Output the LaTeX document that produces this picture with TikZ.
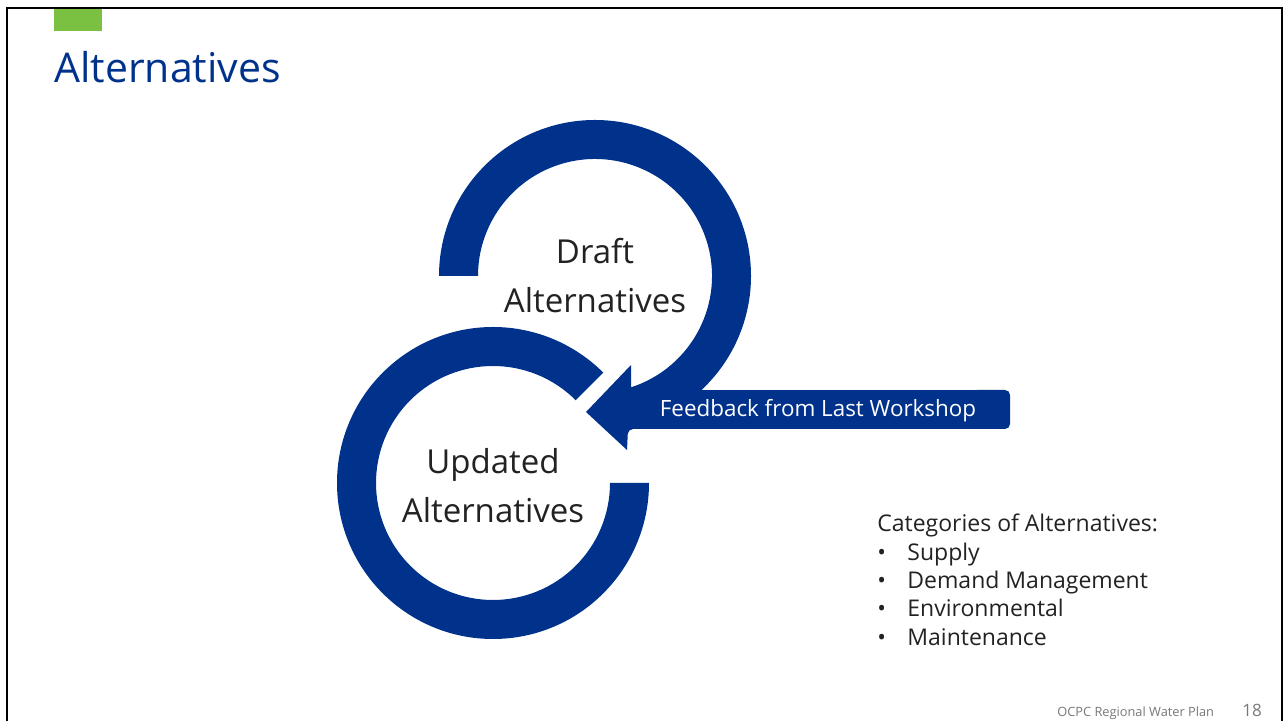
\documentclass[tikz,border=0pt]{standalone}
\usepackage{fontspec}
\setmainfont{Open Sans}
\definecolor{ocpcblue}{RGB}{0,50,140}
\definecolor{ocpcgreen}{RGB}{122,193,66}
\definecolor{textgray}{RGB}{34,34,34}
\definecolor{footgray}{RGB}{120,120,120}

\begin{document}
\begin{tikzpicture}[x=0.5pt, y=0.5pt,
    ringlabel/.style={text=textgray, align=center, inner sep=0pt, font=\fontsize{16.5}{24.5}\selectfont},
    listtext/.style={text=textgray, anchor=base west, inner sep=0pt, font=\fontsize{11.5}{14}\selectfont},
    footer/.style={text=footgray, anchor=base west, inner sep=0pt}]
    \useasboundingbox (0,0) rectangle (1284,721);
    % slide frame and header
    \fill[ocpcgreen] (54,690) rectangle (102,713);
    \draw[line width=1.2pt] (7,-20) -- (7,713) -- (1282,713) -- (1282,-20);
    \node[anchor=base west, inner sep=0pt, text=ocpcblue, font=\fontsize{20.5}{24}\selectfont] (title) at (54,638) {Alternatives};

    % centres of the two loops
    \coordinate (c1) at (595,445);
    \coordinate (c2) at (493,238);
    % lower loop
    \fill[ocpcblue] (c2) ++(0:156) arc[start angle=0, end angle=-315, radius=156]
        -- ++(225:39) arc[start angle=45, end angle=360, radius=117] -- cycle;
    % upper loop running into the feedback arrow
    \fill[ocpcblue] (c1) ++(180:156) arc[start angle=180, end angle=-47, radius=156]
        [rounded corners=2.5pt] -- (1010,331) -- (1010,292) -- (628,292)
        [sharp corners] -- (627,271) -- (586,309) -- (631,356)
        -- ([shift={(-72:117)}]c1) arc[start angle=-72, end angle=180, radius=117] -- cycle;

    \node[ringlabel] (draft) at (c1) {Draft\\Alternatives};
    \node[ringlabel] (updated) at ([yshift=-1.5pt]c2) {Updated\\Alternatives};
    \node[anchor=base, inner sep=0pt, text=white, font=\fontsize{11.2}{13}\selectfont] (feedback) at (818,304) {Feedback from Last Workshop};

    % categories list
    \node[listtext] (cats) at (877,189) {Categories of Alternatives:};
    \foreach \cat [count=\i] in {Supply, Demand Management, Environmental, Maintenance}
        \node[listtext] (cat\i) at (877,189-28.3*\i) {\makebox[15pt][l]{•}\cat};

    \node[footer, font=\fontsize{6.4}{8}\selectfont] (plan) at (1057,4) {OCPC Regional Water Plan};
    \node[footer, font=\fontsize{8.5}{10}\selectfont] (page) at (1242,4) {18};
\end{tikzpicture}
\end{document}
